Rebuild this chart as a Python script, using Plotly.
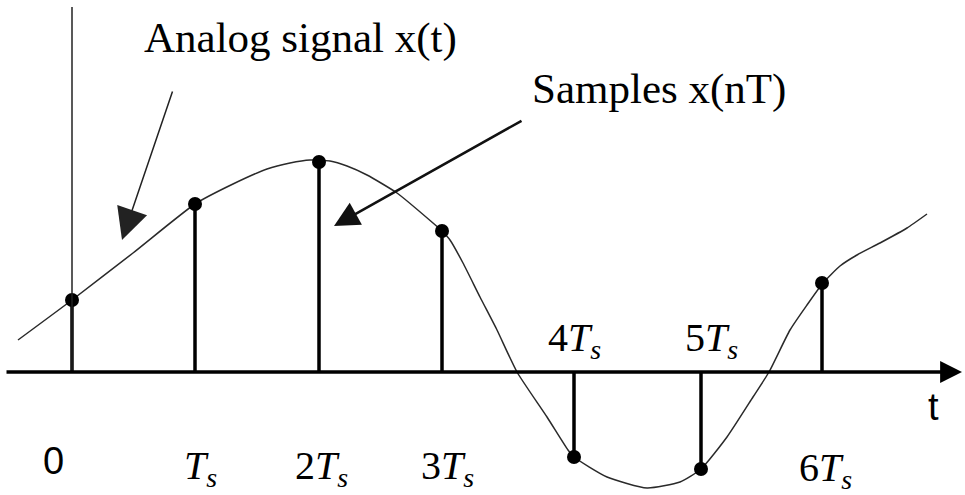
import plotly.graph_objects as go

# ---- data (time in units of Ts, amplitude in arbitrary units) ----
curve_t = [-0.432, 0.0, 0.488, 0.984, 1.288, 1.56, 1.744, 1.904, 2.064, 2.2, 2.36, 2.6,
           2.888, 2.96, 3.024, 3.128, 3.264, 3.4, 3.56, 3.8, 3.968, 4.016, 4.28, 4.6,
           4.864, 5.032, 5.24, 5.448, 5.576, 5.744, 5.88, 6.008, 6.144, 6.28, 6.464, 6.68, 6.84]
curve_x = [0.32, 0.72, 1.19, 1.68, 1.88, 2.03, 2.09, 2.12, 2.11, 2.06, 1.97, 1.79,
           1.49, 1.41, 1.32, 1.09, 0.75, 0.42, 0.0, -0.45, -0.78, -0.85, -1.05, -1.16,
           -1.10, -0.97, -0.65, -0.25, 0.0, 0.42, 0.67, 0.89, 1.06, 1.17, 1.29, 1.44, 1.58]

sample_t = [0.0, 0.984, 1.976, 2.96, 4.016, 5.032, 6.0]
sample_x = [0.72, 1.68, 2.10, 1.41, -0.85, -0.97, 0.89]

tick_labels = ["0", "<i>T</i><sub><i>s</i></sub>", "2<i>T</i><sub><i>s</i></sub>",
               "3<i>T</i><sub><i>s</i></sub>", "4<i>T</i><sub><i>s</i></sub>",
               "5<i>T</i><sub><i>s</i></sub>", "6<i>T</i><sub><i>s</i></sub>"]

# ---- axis extents ----
t_min, t_max = -0.576, 7.144
x_min, x_max = -1.23, 3.72
axis_t_start, axis_t_end = -0.536, 7.12
vaxis_top = 3.65

fig = go.Figure()

# analog signal
fig.add_trace(go.Scatter(x=curve_t, y=curve_x, mode="lines",
                         line=dict(color="#2a2a2a", width=1.5, shape="spline", smoothing=0.55),
                         hoverinfo="skip", showlegend=False))

# stems
stem_x, stem_y = [], []
for t, v in zip(sample_t, sample_x):
    stem_x += [t, t, None]
    stem_y += [0, v, None]
fig.add_trace(go.Scatter(x=stem_x, y=stem_y, mode="lines",
                         line=dict(color="black", width=3.5),
                         hoverinfo="skip", showlegend=False))
fig.add_trace(go.Scatter(x=sample_t, y=sample_x, mode="markers",
                         marker=dict(color="black", size=14),
                         hoverinfo="skip", showlegend=False))

# vertical axis
fig.add_trace(go.Scatter(x=[0, 0], y=[0, vaxis_top], mode="lines",
                         line=dict(color="#222", width=1.5),
                         hoverinfo="skip", showlegend=False))

annotations = []
# horizontal axis with arrow
annotations.append(dict(x=axis_t_end, y=0, ax=axis_t_start, ay=0, axref="x", ayref="y",
                        xref="x", yref="y", text="", showarrow=True, arrowhead=2,
                        arrowwidth=3.5, arrowsize=1.25, arrowcolor="black"))
# pointer arrows
annotations.append(dict(x=0.4, y=1.32, ax=0.808, ay=2.82, axref="x", ayref="y",
                        xref="x", yref="y", text="", showarrow=True, arrowhead=2,
                        arrowwidth=1.5, arrowsize=4.2, arrowcolor="#222"))
annotations.append(dict(x=2.096, y=1.46, ax=3.608, ay=2.52, axref="x", ayref="y",
                        xref="x", yref="y", text="", showarrow=True, arrowhead=2,
                        arrowwidth=2.5, arrowsize=2.0, arrowcolor="#111"))

serif = "Liberation Serif, Times New Roman, serif"
sans = "Liberation Sans, Arial, sans-serif"

annotations.append(dict(x=0.56, y=3.345, xref="x", yref="y", text="Analog signal x(t)",
                        showarrow=False, xanchor="left", yanchor="middle",
                        font=dict(family=serif, size=43, color="black")))
annotations.append(dict(x=3.664, y=2.835, xref="x", yref="y", text="Samples x(nT)",
                        showarrow=False, xanchor="left", yanchor="middle",
                        font=dict(family=serif, size=43, color="black")))

# tick labels
label_dx = [-19, 5, 2, 5, 0, 10, 3]
label_dy = [-89, -96, -96, -96, 32, 32, -98]
for i, (t, lab) in enumerate(zip(sample_t, tick_labels)):
    fam = sans if i == 0 else serif
    size = 38 if i == 0 else 40
    annotations.append(dict(x=t, y=0, xref="x", yref="y", text=lab, showarrow=False,
                            xanchor="center", yanchor="middle",
                            xshift=label_dx[i], yshift=label_dy[i],
                            font=dict(family=fam, size=size, color="black")))
# axis label t
annotations.append(dict(x=axis_t_end, y=0, xref="x", yref="y", text="t", showarrow=False,
                        xanchor="center", yanchor="middle", xshift=-29, yshift=-35,
                        font=dict(family=sans, size=38, color="black")))

fig.update_layout(
    width=965, height=495,
    margin=dict(l=0, r=0, t=0, b=0),
    paper_bgcolor="white", plot_bgcolor="white",
    xaxis=dict(range=[t_min, t_max], visible=False, fixedrange=True),
    yaxis=dict(range=[x_min, x_max], visible=False, fixedrange=True),
    annotations=annotations,
    showlegend=False,
)

fig.write_html("out.html", config={"displayModeBar": False, "responsive": False},
               post_script="document.body.style.margin='0';document.body.style.overflow='hidden';")
